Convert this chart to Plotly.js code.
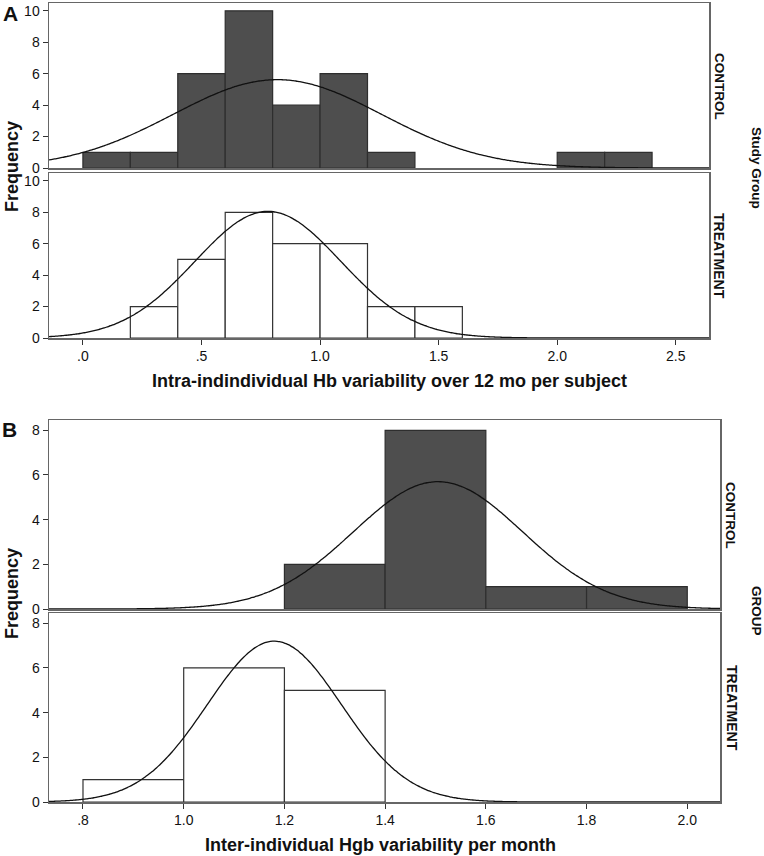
<!DOCTYPE html>
<html>
<head>
<meta charset="utf-8">
<script src="https://cdn.plot.ly/plotly-3.0.1.min.js"></script>
<style>html,body{margin:0;padding:0;background:#fff;}#chart{width:764px;height:856px;}</style>
</head>
<body>
<div id="chart"></div>
<script>
// ---- Data ----
// Panel A: bin centres (bin width 0.2)
var binsA = [0.1, 0.3, 0.5, 0.7, 0.9, 1.1, 1.3, 1.5, 1.7, 1.9, 2.1, 2.3];
var controlA = [1, 1, 6, 10, 4, 6, 1, 0, 0, 0, 1, 1];
var treatmentA = [0, 2, 5, 8, 6, 6, 2, 2, 0, 0, 0, 0];
// Panel B: bin centres (bin width 0.2)
var binsB = [0.9, 1.1, 1.3, 1.5, 1.7, 1.9];
var controlB = [0, 0, 2, 8, 1, 1];
var treatmentB = [1, 6, 5, 0, 0, 0];
var binWidth = 0.2;
// normal-curve fits shown (mean, sd)
var fitControlA = [0.82, 0.44];
var fitTreatmentA = [0.78, 0.307];
var fitControlB = [1.505, 0.168];
var fitTreatmentB = [1.18, 0.133];
// tick labels
var xTickValsA = [0, 0.5, 1.0, 1.5, 2.0, 2.5];
var xTickTextA = ['.0', '.5', '1.0', '1.5', '2.0', '2.5'];
var xTickValsB = [0.8, 1.0, 1.2, 1.4, 1.6, 1.8, 2.0];
var xTickTextB = ['.8', '1.0', '1.2', '1.4', '1.6', '1.8', '2.0'];
var yTicksA = [0, 2, 4, 6, 8, 10];
var yTicksB = [0, 2, 4, 6, 8];

var FONT = 'Liberation Sans, Arial, sans-serif';
var W = 764, H = 856;

function nz(a){ return a.map(function(v){ return v === 0 ? null : v; }); }
function total(a){ return a.reduce(function(s,v){return s+v;},0); }
function curve(counts, fit, lo, hi){
  var n = total(counts), xs = [], ys = [];
  var steps = 300;
  for (var i = 0; i <= steps; i++) {
    var x = lo + (hi - lo) * i / steps;
    var z = (x - fit[0]) / fit[1];
    xs.push(x);
    ys.push(n * binWidth * Math.exp(-0.5 * z * z) / (fit[1] * Math.sqrt(2 * Math.PI)));
  }
  return {x: xs, y: ys};
}

var darkFill = '#4e4e4e', darkLine = '#2e2e2e';
function bars(x, y, xa, ya, dark){
  return {type: 'bar', x: x, y: nz(y), width: binWidth, xaxis: xa, yaxis: ya,
    marker: {color: dark ? darkFill : '#ffffff', line: {color: dark ? darkLine : '#333333', width: 1.2}},
    hoverinfo: 'skip', showlegend: false};
}
function line(c, xa, ya){
  return {type: 'scatter', mode: 'lines', x: c.x, y: c.y, xaxis: xa, yaxis: ya,
    line: {color: '#111111', width: 1.3, shape: 'spline'}, hoverinfo: 'skip', showlegend: false};
}

var rangeA = [-0.143, 2.64], rangeB = [0.7325, 2.065];
var data = [
  bars(binsA, controlA, 'x', 'y', true),
  line(curve(controlA, fitControlA, rangeA[0], rangeA[1]), 'x', 'y'),
  bars(binsA, treatmentA, 'x2', 'y2', false),
  line(curve(treatmentA, fitTreatmentA, rangeA[0], rangeA[1]), 'x2', 'y2'),
  bars(binsB, controlB, 'x3', 'y3', true),
  line(curve(controlB, fitControlB, rangeB[0], rangeB[1]), 'x3', 'y3'),
  bars(binsB, treatmentB, 'x4', 'y4', false),
  line(curve(treatmentB, fitTreatmentB, rangeB[0], rangeB[1]), 'x4', 'y4')
];

function px(a, b){ return [a / W, b / W]; }
function py(top, bottom){ return [(H - bottom) / H, (H - top) / H]; }
var frame = '#666666';
function xax(domain, range, anchor, vals, text, showLabels){
  return {domain: domain, range: range, anchor: anchor, showline: true, mirror: true,
    linecolor: frame, linewidth: 1.5, showgrid: false, zeroline: false,
    tickmode: 'array', tickvals: vals, ticktext: text, showticklabels: showLabels,
    ticks: showLabels ? 'outside' : '', ticklen: 5, tickcolor: '#333', tickwidth: 1,
    tickfont: {family: FONT, size: 14, color: '#111'}, fixedrange: true};
}
function yax(domain, range, anchor, vals){
  return {domain: domain, range: range, anchor: anchor, showline: true, mirror: true,
    linecolor: frame, linewidth: 1.5, showgrid: false, zeroline: false,
    tickmode: 'array', tickvals: vals, ticktext: vals.map(String),
    ticks: 'outside', ticklen: 5, tickcolor: '#333', tickwidth: 1,
    tickfont: {family: FONT, size: 14, color: '#111'}, fixedrange: true};
}

function ann(text, x, y, size, angle){
  return {text: '<b>' + text + '</b>', x: x / W, y: (H - y) / H,
    xref: 'paper', yref: 'paper', xanchor: 'center', yanchor: 'middle', showarrow: false,
    textangle: angle, font: {family: FONT, size: size, color: '#111'}};
}

var layout = {
  width: W, height: H, margin: {l: 0, r: 0, t: 0, b: 0},
  paper_bgcolor: '#fff', plot_bgcolor: '#fff', showlegend: false, barmode: 'overlay',
  xaxis:  xax(px(49, 709), rangeA, 'y',  xTickValsA, xTickTextA, false),
  xaxis2: xax(px(49, 709), rangeA, 'y2', xTickValsA, xTickTextA, true),
  xaxis3: xax(px(49, 720), rangeB, 'y3', xTickValsB, xTickTextB, false),
  xaxis4: xax(px(49, 720), rangeB, 'y4', xTickValsB, xTickTextB, true),
  yaxis:  yax(py(3, 168), [0, 10.5], 'x', yTicksA),
  yaxis2: yax(py(173, 338), [0, 10.5], 'x2', yTicksA),
  yaxis3: yax(py(420, 609), [0, 8.46], 'x3', yTicksB),
  yaxis4: yax(py(613, 802), [0, 8.46], 'x4', yTicksB),
  annotations: [
    ann('A', 10, 13, 21, 0),
    ann('B', 9, 430, 21, 0),
    ann('Frequency', 12, 167, 18, -90),
    ann('Frequency', 12, 594, 18, -90),
    ann('CONTROL', 719, 86, 13.5, 90),
    ann('TREATMENT', 719, 256, 14, 90),
    ann('Study Group', 757, 168, 13.5, 90),
    ann('CONTROL', 731, 515, 13.5, 90),
    ann('TREATMENT', 732, 708, 14, 90),
    ann('GROUP', 757, 611, 13.5, 90),
    ann('Intra-indindividual Hb variability over 12 mo per subject', 389, 381, 18, 0),
    ann('Inter-individual Hgb variability per month', 380, 845, 18, 0)
  ]
};

Plotly.newPlot('chart', data, layout, {displayModeBar: false, staticPlot: true});
</script>
</body>
</html>
